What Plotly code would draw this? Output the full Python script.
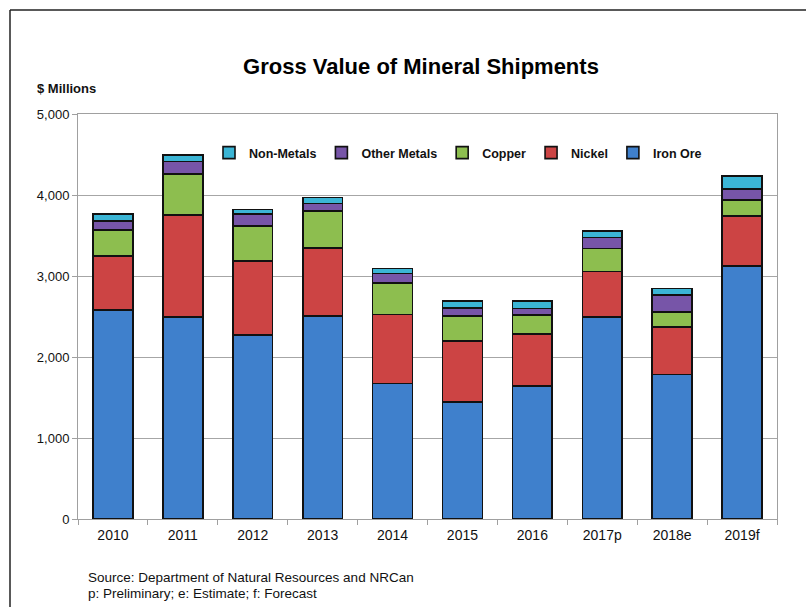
import plotly.graph_objects as go

years = ["2010", "2011", "2012", "2013", "2014", "2015", "2016", "2017p", "2018e", "2019f"]

# Segment values ($ millions)
iron_ore = [2580, 2495, 2270, 2505, 1675, 1445, 1640, 2495, 1785, 3125]
nickel = [667, 1258, 915, 840, 852, 752, 644, 563, 589, 616]
copper = [321, 510, 432, 457, 383, 309, 234, 284, 185, 198]
other_metals = [111, 149, 152, 95, 123, 99, 83, 131, 210, 132]
non_metals = [87, 79, 54, 74, 62, 83, 87, 83, 79, 160]

series = [
    ("Iron Ore", iron_ore, "#3F80CC"),
    ("Nickel", nickel, "#CC4444"),
    ("Copper", copper, "#8DBE4F"),
    ("Other Metals", other_metals, "#7755A8"),
    ("Non-Metals", non_metals, "#3BB5D5"),
]

FONT = "Liberation Sans, Arial, sans-serif"

fig = go.Figure()
for name, vals, color in series:
    fig.add_trace(go.Bar(
        x=years, y=vals, name=name,
        marker=dict(color=color, line=dict(color="#111111", width=1.6)),
    ))

W, H = 806, 607
L, R, T, B = 78, 29, 114, 88
pw, ph = W - L - R, H - T - B

def px(x):
    return (x - L) / pw

def py(y):
    return (H - B - y) / ph

fig.update_layout(
    width=W, height=H,
    margin=dict(l=L, r=R, t=T, b=B, pad=0),
    paper_bgcolor="white", plot_bgcolor="white",
    barmode="stack", bargap=0.43,
    font=dict(family=FONT, size=13, color="#111111"),
    title=dict(text="<b>Gross Value of Mineral Shipments</b>",
               x=421 / W, xanchor="center", y=1 - 66 / H, yanchor="middle",
               font=dict(size=22, family=FONT, color="#000000")),
    legend=dict(orientation="h", traceorder="reversed",
                x=px(209), xanchor="left", y=py(153), yanchor="middle",
                font=dict(size=12.5, family=FONT, color="#111111", weight="bold"),
                bgcolor="rgba(0,0,0,0)", itemwidth=30, tracegroupgap=0),
    xaxis=dict(type="category", showgrid=False, showline=True, linecolor="#a0a0a0",
               linewidth=1, mirror=True, ticks="outside", tickson="boundaries",
               ticklen=5, tickcolor="#a0a0a0", ticklabelstandoff=3,
               tickfont=dict(size=14, color="#111111")),
    yaxis=dict(range=[0, 5000], dtick=1000, tickformat=",d", showgrid=True,
               gridcolor="#a6a6a6", gridwidth=1, showline=True, linecolor="#a0a0a0",
               linewidth=1, mirror=True, ticks="outside", ticklen=5, tickcolor="#a0a0a0",
               tickfont=dict(size=13, color="#111111"), zeroline=False),
    annotations=[
        dict(text="<b>$ Millions</b>", xref="paper", yref="paper", x=px(35), y=py(88),
             xanchor="left", yanchor="middle", showarrow=False, font=dict(size=13)),
        dict(text="Source: Department of Natural Resources and NRCan", xref="paper", yref="paper",
             x=px(86), y=py(577), xanchor="left", yanchor="middle", showarrow=False,
             font=dict(size=13.5)),
        dict(text="p: Preliminary; e: Estimate; f: Forecast", xref="paper", yref="paper",
             x=px(86), y=py(593), xanchor="left", yanchor="middle", showarrow=False,
             font=dict(size=13.5)),
    ],
    shapes=[
        dict(type="line", xref="paper", yref="paper", x0=px(10), x1=px(W + 5), y0=py(10), y1=py(10),
             line=dict(color="#222222", width=1.5)),
        dict(type="line", xref="paper", yref="paper", x0=px(10), x1=px(10), y0=py(10), y1=py(H + 5),
             line=dict(color="#222222", width=1.5)),
    ],
)

fig.write_html("out.html")
